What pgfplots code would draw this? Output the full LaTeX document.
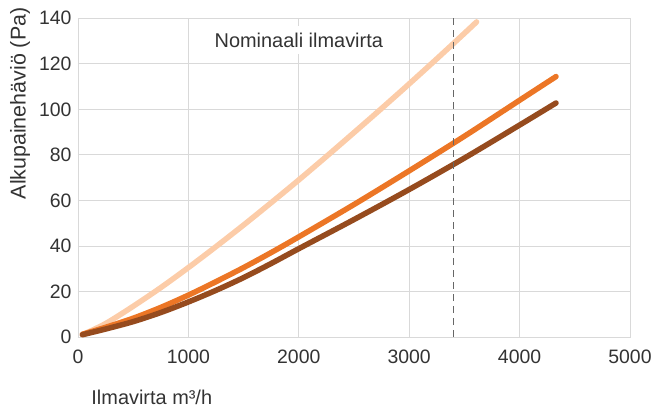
\documentclass[border=0pt]{standalone}
\usepackage{fontspec}
\setmainfont{Liberation Sans}
\usepackage{pgfplots}
\pgfplotsset{compat=1.18}

\definecolor{peach}{RGB}{252,204,168}
\definecolor{orangeline}{RGB}{236,118,38}
\definecolor{brownline}{RGB}{150,75,30}
\definecolor{gridgray}{RGB}{217,217,217}
\definecolor{textgray}{RGB}{51,51,51}
\definecolor{dashgray}{RGB}{102,102,102}

\begin{document}
\begin{tikzpicture}
\begin{axis}[
  name=ax,
  scale only axis,
  width=552bp, height=318.7bp,
  xmin=0, xmax=5000,
  ymin=0, ymax=140,
  xtick={0,1000,2000,3000,4000,5000},
  ytick={0,20,40,60,80,100,120,140},
  grid=major,
  major grid style={gridgray, line width=0.8bp},
  axis line style={gridgray, line width=0.8bp},
  major tick length=0pt,
  tick style={draw=none},
  /pgf/number format/1000 sep={},
  /pgf/number format/assume math mode=true,
  ticklabel style={font=\fontsize{19.5}{22}\selectfont, text=textgray},
  xticklabel style={yshift=-9bp},
  yticklabel style={xshift=-3bp},
  xlabel={Ilmavirta m³/h},
  xlabel style={at={(rel axis cs:0.018,-0.188)}, anchor=west, font=\fontsize{20}{24}\selectfont, text=textgray},
  ylabel={Alkupainehäviö (Pa)},
  ylabel style={at={(rel axis cs:-0.105,0.733)}, anchor=center, font=\fontsize{21.5}{24}\selectfont, text=textgray},
  clip=true,
]
% light curve
\addplot[peach, line width=5.5bp, line cap=round, line join=round, smooth] coordinates {
(40,1) (250,5.9) (500,13.5) (750,21.7) (1000,30.5) (1250,39.7) (1500,49.2)
(1750,59) (2000,69) (2250,79.3) (2500,89.8) (2750,100.4) (3000,111.2)
(3250,122.2) (3500,133.4) (3610,138.4)
};
% orange curve
\addplot[orangeline, line width=5.5bp, line cap=round, line join=round, smooth] coordinates {
(40,1.2) (250,4.25) (500,8.25) (750,13) (1000,18.4) (1250,24.3) (1500,30.5)
(1750,37.1) (2000,44) (2500,58.2) (3000,73) (3500,88.2) (4000,104) (4330,114.4)
};
% brown curve
\addplot[brownline, line width=5.5bp, line cap=round, line join=round, smooth] coordinates {
(40,1) (250,3.5) (500,6.75) (750,10.75) (1000,15.4) (1250,20.5) (1500,26.1)
(1750,32.3) (2000,38.8) (2500,51.6) (3000,64.8) (3500,78.6) (4000,93.1) (4330,102.8)
};
\addplot[dashgray, line width=1bp, dash pattern=on 7bp off 5bp] coordinates {(3400,0) (3400,140)};
\node[fill=white, inner xsep=8bp, inner ysep=7bp, text=textgray,
  font=\fontsize{20}{24}\selectfont] at (axis cs:2000,130.5) {Nominaali ilmavirta};
\end{axis}
\pgfresetboundingbox
\path (ax.south west) ++(-78bp,-73bp) rectangle ++(654bp,410bp);
\end{tikzpicture}
\end{document}
